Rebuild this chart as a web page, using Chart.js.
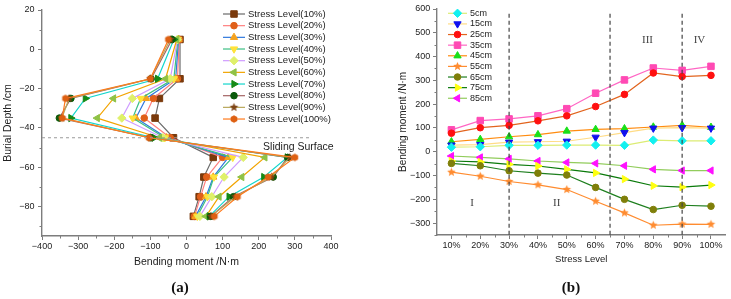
<!DOCTYPE html>
<html>
<head>
<meta charset="utf-8">
<script src="https://cdn.jsdelivr.net/npm/chart.js@4.4.1/dist/chart.umd.min.js"></script>
<style>
  html, body { margin: 0; padding: 0; background: #fff; }
  #wrap { position: relative; width: 731px; height: 299px; overflow: hidden; }
  #chartA { position: absolute; left: 0; top: 0; }
  #chartB { position: absolute; left: 370px; top: 0; }
  .cap { position: absolute; top: 279px; width: 40px; text-align: center; line-height: 18px;
         font: bold 15px 'Liberation Serif', 'DejaVu Serif', serif; color: #111; }
</style>
</head>
<body>
<div id="wrap">
  <canvas id="chartA" width="365" height="299"></canvas>
  <canvas id="chartB" width="361" height="299"></canvas>
  <div class="cap" style="left:160px">(a)</div>
  <div class="cap" style="left:551px">(b)</div>
</div>
<script>
// ── panel (a): bending moment along the pile, one line per stress level ──
const depths = [5, -15, -25, -35, -45, -55, -65, -75, -85];
const sl10  = [-18, -18, -75,  -87,  -36,  74,  48,  35, 19];
const sl20  = [-20, -25, -92,  -117, -45,  100, 56,  39, 22];
const sl30  = [-22, -30, -112, -140, -55,  116, 74,  54, 25];
const sl40  = [-24, -35, -127, -149, -60,  128, 76,  58, 30];
const sl50  = [-25, -45, -150, -179, -65,  157, 104, 70, 37];
const sl60  = [-27, -58, -202, -247, -75,  217, 153, 90, 54];
const sl70  = [-35, -80, -280, -320, -90,  279, 214, 118, 63];
const sl80  = [-40, -98, -320, -352, -100, 280, 240, 130, 67];
const sl90  = [-45, -100, -325, -345, -100, 286, 235, 135, 68];
const sl100 = [-50, -100, -335, -344, -104, 300, 226, 141, 77];
const slidingDepth = -45;

// ── panel (b): bending moment vs stress level, one line per depth ──
const levels = ['10%', '20%', '30%', '40%', '50%', '60%', '70%', '80%', '90%', '100%'];
const d5  = [19, 21, 27, 27, 28, 28, 27, 49, 46, 46];
const d15 = [28, 30, 40, 42, 44, 61, 80, 99, 101, 99];
const d25 = [78, 101, 111, 130, 151, 190, 241, 331, 316, 321];
const d35 = [92, 131, 138, 151, 181, 246, 302, 352, 342, 359];
const d45 = [42, 52, 63, 72, 87, 94, 97, 104, 111, 103];
const d55 = [-86, -103, -125, -139, -159, -208, -257, -309, -304, -305];
const d65 = [-49, -59, -80, -90, -98, -150, -200, -243, -225, -229];
const d75 = [-39, -43, -53, -60, -74, -89, -115, -143, -149, -140];
const d85 = [-18, -24, -30, -39, -45, -49, -59, -74, -79, -79];
const stageBreaks = [2, 5.5, 8];
const stageNames = ['I', 'II', 'III', 'IV'];

const AXIS = '#7d7d7d';
const TXT = '#222';
Chart.defaults.font.family = "'Liberation Sans', Arial, sans-serif";
Chart.defaults.color = TXT;

const minus = v => (v < 0 ? '\u2212' + Math.abs(v) : String(v));

// small polygon / star markers the built-in point styles don't have
function polyMarker(color, r, n, inner) {
  const c = document.createElement('canvas');
  c.width = c.height = Math.ceil(2 * r + 2);
  const g = c.getContext('2d');
  const cx = c.width / 2, cy = c.height / 2;
  const pts = inner ? n * 2 : n;
  g.beginPath();
  for (let i = 0; i < pts; i++) {
    const rr = inner && i % 2 ? r * inner : r;
    const a = -Math.PI / 2 + i * 2 * Math.PI / pts;
    g.lineTo(cx + rr * Math.cos(a), cy + rr * Math.sin(a));
  }
  g.closePath();
  g.fillStyle = color;
  g.fill();
  return c;
}

function axisTicks(values, step) {
  const out = [];
  for (let v = values[0]; v <= values[1] + 1e-9; v += step) out.push(v);
  return out;
}

// short outward minor ticks
const minorTicks = {
  id: 'minorTicks',
  afterDraw(chart, args, o) {
    const { ctx, chartArea } = chart;
    ctx.save();
    ctx.strokeStyle = AXIS;
    ctx.lineWidth = 1;
    (o.x || []).forEach(v => {
      const px = Math.round(chart.scales.x.getPixelForValue(v)) + 0.5;
      ctx.beginPath(); ctx.moveTo(px, chartArea.bottom); ctx.lineTo(px, chartArea.bottom + 2.5); ctx.stroke();
    });
    (o.y || []).forEach(v => {
      const py = Math.round(chart.scales.y.getPixelForValue(v)) + 0.5;
      ctx.beginPath(); ctx.moveTo(chartArea.left, py); ctx.lineTo(chartArea.left - 2.5, py); ctx.stroke();
    });
    ctx.restore();
  }
};

// Origin-style legend: short line with the marker in the middle
const lineLegend = {
  id: 'lineLegend',
  afterDraw(chart, args, o) {
    const ctx = chart.ctx;
    chart.data.datasets.forEach((ds, i) => {
      const y = o.y + i * o.gap;
      ctx.save();
      ctx.strokeStyle = ds.borderColor;
      ctx.lineWidth = ds.borderWidth;
      ctx.beginPath(); ctx.moveTo(o.x, y); ctx.lineTo(o.x + o.len, y); ctx.stroke();
      ctx.fillStyle = ds.pointBackgroundColor;
      ctx.strokeStyle = ds.pointBackgroundColor;
      ctx.lineWidth = 1;
      Chart.helpers.drawPoint(ctx, {
        pointStyle: ds.pointStyle, rotation: ds.pointRotation || 0,
        radius: ds.pointRadius, borderWidth: 1
      }, o.x + o.len / 2, y);
      ctx.fillStyle = TXT;
      ctx.font = o.font;
      ctx.textAlign = 'left';
      ctx.textBaseline = 'middle';
      ctx.fillText(ds.label, o.x + o.len + o.pad, y);
      ctx.restore();
    });
  }
};

function markerRadius(style) {
  if (style === 'rect') return 4.6;
  if (style === 'circle') return 3.3;
  return 4.2;
}

function momentSet(label, values, line, mark, style, rot, order) {
  return {
    label, order,
    data: values.map((v, i) => ({ x: v, y: depths[i] })),
    showLine: true,
    borderColor: line, borderWidth: 1.2,
    backgroundColor: mark,
    pointBackgroundColor: mark, pointBorderColor: mark, pointBorderWidth: 1,
    pointStyle: style, pointRotation: rot,
    pointRadius: typeof style === 'string' ? markerRadius(style) : 4.2
  };
}

function levelSet(label, values, line, mark, style, rot) {
  return {
    label, data: values,
    borderColor: line, borderWidth: 1.2,
    backgroundColor: mark,
    pointBackgroundColor: mark, pointBorderColor: mark, pointBorderWidth: 1,
    pointStyle: style, pointRotation: rot,
    pointRadius: typeof style === 'string' ? markerRadius(style) : 4.2
  };
}

const axisBase = {
  border: { display: true, color: AXIS, width: 1.4 },
  grid: { drawOnChartArea: false, drawTicks: true, tickLength: 4, color: AXIS, tickWidth: 1 }
};

// ── chart (a) ──
new Chart(document.getElementById('chartA'), {
  type: 'scatter',
  data: {
    datasets: [
      momentSet('Stress Level(10%)', sl10, '#6a6a6a', '#7a3a0c', 'rect', 0, 10),
      momentSet('Stress Level(20%)', sl20, '#ff7f7f', '#e0601a', 'circle', 0, 9),
      momentSet('Stress Level(30%)', sl30, '#2f78dc', '#f5a21e', 'triangle', 0, 8),
      momentSet('Stress Level(40%)', sl40, '#3cbf84', '#ffe23a', 'triangle', 180, 7),
      momentSet('Stress Level(50%)', sl50, '#cf9cff', '#dff06a', 'rectRot', 0, 6),
      momentSet('Stress Level(60%)', sl60, '#f2a400', '#8fc246', 'triangle', 270, 5),
      momentSet('Stress Level(70%)', sl70, '#12d6cc', '#168a16', 'triangle', 90, 4),
      momentSet('Stress Level(80%)', sl80, '#a46464', '#0a5a0a', 'circle', 0, 3),
      momentSet('Stress Level(90%)', sl90, '#b8a85a', '#7e4416', polyMarker('#7e4416', 4.5, 5, 0.45), 0, 2),
      momentSet('Stress Level(100%)', sl100, '#ff7a1c', '#de6012', polyMarker('#de6012', 3.8, 6, 0), 0, 1)
    ]
  },
  options: {
    responsive: false, animation: false, devicePixelRatio: 1,
    layout: { padding: { left: 0, right: 34, top: 10, bottom: 0 } },
    plugins: {
      legend: { display: false }, tooltip: { enabled: false },
      minorTicks: { x: axisTicks([-350, 350], 100), y: axisTicks([-90, 10], 20) },
      lineLegend: { x: 223, y: 14, gap: 11.67, len: 22, pad: 3, font: "9.5px 'Liberation Sans', Arial, sans-serif" }
    },
    scales: {
      x: {
        ...axisBase, type: 'linear', min: -400, max: 400,
        afterFit: s => { s.height = 63; },
        ticks: { stepSize: 100, autoSkip: false, maxRotation: 0, padding: 1, font: { size: 9 }, callback: minus },
        title: { display: true, text: 'Bending moment /N\u00b7m', font: { size: 10.5 }, padding: { top: 0, bottom: 31 } }
      },
      y: {
        ...axisBase, type: 'linear', min: -95, max: 20,
        afterFit: s => { s.width = 42; },
        ticks: { stepSize: 20, includeBounds: false, padding: 3.5, font: { size: 9 }, callback: minus },
        title: { display: true, text: 'Burial Depth /cm', font: { size: 10.5 }, padding: { top: 1.5, bottom: 0 } }
      }
    }
  },
  plugins: [minorTicks, lineLegend, {
    id: 'slidingSurface',
    afterDatasetsDraw(chart) {
      const { ctx, scales: { x, y } } = chart;
      const py = y.getPixelForValue(slidingDepth);
      ctx.save();
      ctx.strokeStyle = '#9a9a9a';
      ctx.lineWidth = 1.2;
      ctx.setLineDash([3, 3]);
      ctx.beginPath();
      ctx.moveTo(x.getPixelForValue(-400), py);
      ctx.lineTo(x.getPixelForValue(345), py);
      ctx.stroke();
      ctx.setLineDash([]);
      ctx.fillStyle = TXT;
      ctx.font = "10.5px 'Liberation Sans', Arial, sans-serif";
      ctx.textBaseline = 'middle';
      ctx.fillText('Sliding Surface', x.getPixelForValue(212), y.getPixelForValue(-50));
      ctx.restore();
    }
  }]
});

// ── chart (b) ──
new Chart(document.getElementById('chartB'), {
  type: 'line',
  data: {
    labels: levels,
    datasets: [
      levelSet('5cm',  d5,  '#dcec74', '#12f0f0', 'rectRot', 0),
      levelSet('15cm', d15, '#ffdc86', '#1010ee', 'triangle', 180),
      levelSet('25cm', d25, '#e2641e', '#ff1010', 'circle', 0),
      levelSet('35cm', d35, '#ff66c4', '#ff4ab4', 'rect', 0),
      levelSet('45cm', d45, '#ff8c10', '#18e018', 'triangle', 0),
      levelSet('55cm', d55, '#ff8c30', '#ff8c30', polyMarker('#ff8c30', 4.5, 5, 0.45), 0),
      levelSet('65cm', d65, '#1f7f1f', '#7f7f0a', 'circle', 0),
      levelSet('75cm', d75, '#0a7a0a', '#ffff10', 'triangle', 90),
      levelSet('85cm', d85, '#92cc5c', '#ff10ff', 'triangle', 270)
    ]
  },
  options: {
    responsive: false, animation: false, devicePixelRatio: 1,
    layout: { padding: { left: 0, right: 0, top: 9, bottom: 0 } },
    plugins: {
      legend: { display: false }, tooltip: { enabled: false },
      minorTicks: { x: axisTicks([0.5, 8.5], 1), y: axisTicks([-350, 550], 100) },
      lineLegend: { x: 78, y: 13.3, gap: 10.62, len: 19, pad: 3, font: "9px 'Liberation Sans', Arial, sans-serif" }
    },
    scales: {
      x: {
        ...axisBase, type: 'category', offset: true,
        afterFit: s => { s.height = 64; },
        ticks: { autoSkip: false, maxRotation: 0, padding: 1, font: { size: 9 } },
        title: { display: true, text: 'Stress Level', font: { size: 9.5 }, padding: { top: 0, bottom: 34 } }
      },
      y: {
        ...axisBase, type: 'linear', min: -350, max: 600,
        afterFit: s => { s.width = 67; },
        ticks: { stepSize: 100, includeBounds: false, padding: 2.7, font: { size: 9 }, callback: minus },
        title: { display: true, text: 'Bending moment /N\u00b7m', font: { size: 10 }, padding: { top: 27, bottom: 0 } }
      }
    }
  },
  plugins: [minorTicks, lineLegend, {
    id: 'stages',
    afterDatasetsDraw(chart) {
      const { ctx, scales: { x, y } } = chart;
      ctx.save();
      ctx.strokeStyle = '#444';
      ctx.lineWidth = 1.2;
      ctx.setLineDash([4, 3]);
      stageBreaks.forEach(b => {
        const px = x.getPixelForValue(b);
        ctx.beginPath();
        ctx.moveTo(px, y.getPixelForValue(580));
        ctx.lineTo(px, y.getPixelForValue(-350));
        ctx.stroke();
      });
      ctx.setLineDash([]);
      ctx.fillStyle = '#444';
      ctx.font = "11px 'Liberation Serif', 'DejaVu Serif', serif";
      ctx.textAlign = 'center';
      ctx.textBaseline = 'middle';
      const spots = [[0.72, -217], [3.65, -217], [6.8, 468], [8.6, 468]];
      stageNames.forEach((n, i) => {
        ctx.fillText(n, x.getPixelForValue(spots[i][0]), y.getPixelForValue(spots[i][1]));
      });
      ctx.restore();
    }
  }]
});
</script>
</body>
</html>
